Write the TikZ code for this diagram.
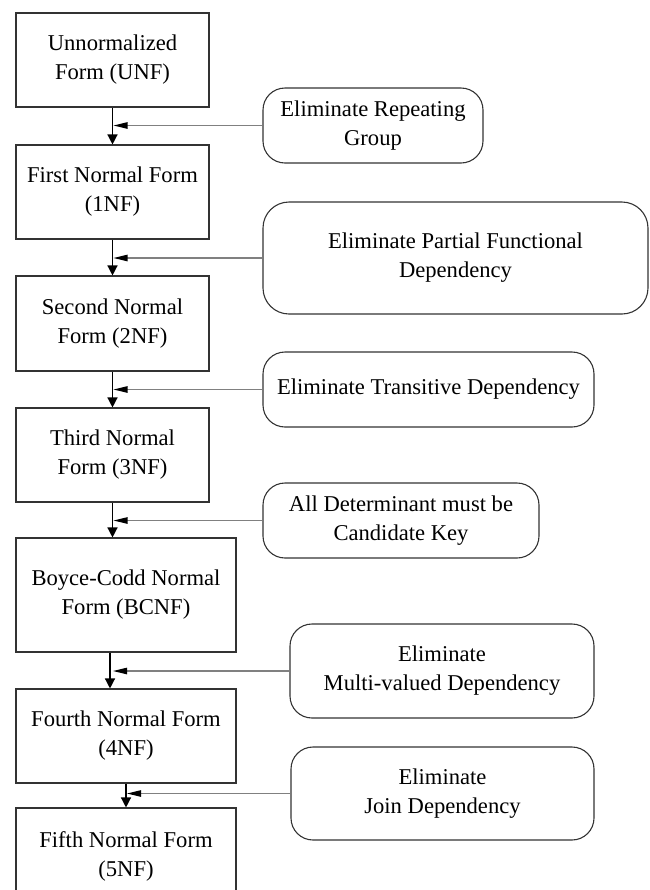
\documentclass[tikz,border=0pt]{standalone}
\usepackage{fontspec}
\setmainfont{Liberation Serif}
\usetikzlibrary{arrows.meta}
\begin{document}
\begin{tikzpicture}[x=0.5pt,y=-0.5pt,
  form/.style={draw=black!80,line width=0.55pt,align=center,inner sep=0pt,font=\fontsize{11.3}{14.5}\selectfont},
  rule/.style={form,rounded corners=11pt},
  down/.style={-{Triangle[length=5pt,width=5pt]},line width=0.65pt},
  feed/.style={-{Triangle[length=7pt,width=3.2pt,color=black]},black!50,line width=0.6pt}]
  \useasboundingbox (0,0) rectangle (649,890);
  \node[form,minimum width=96.5pt,minimum height=47pt] (unf) at (112.5,60) {Unnormalized\\Form (UNF)};
  \node[form,minimum width=96.5pt,minimum height=47pt] (nf1) at (112.5,192) {First Normal Form\\(1NF)};
  \node[form,minimum width=96.5pt,minimum height=47.5pt] (nf2) at (112.5,323.5) {Second Normal\\Form (2NF)};
  \node[form,minimum width=96.5pt,minimum height=47pt] (nf3) at (112.5,455) {Third Normal\\Form (3NF)};
  \node[form,minimum width=110pt,minimum height=57pt] (bcnf) at (126,595) {Boyce-Codd Normal\\Form (BCNF)};
  \node[form,minimum width=110pt,minimum height=47pt] (nf4) at (126,736) {Fourth Normal Form\\(4NF)};
  \node[form,minimum width=110pt,minimum height=48pt] (nf5) at (126,856) {Fifth Normal Form\\(5NF)};
  \node[rule,minimum width=110pt,minimum height=37.5pt] (r1) at (373,125.5) {Eliminate Repeating\\Group};
  \node[rule,minimum width=192.5pt,minimum height=56pt,rounded corners=13pt] (r2) at (455.5,258) {Eliminate Partial Functional\\Dependency};
  \node[rule,minimum width=165.5pt,minimum height=37.5pt] (r3) at (428.5,389.5) {Eliminate Transitive Dependency};
  \node[rule,minimum width=138pt,minimum height=37.5pt] (r4) at (401,520.5) {All Determinant must be\\Candidate Key};
  \node[rule,minimum width=152pt,minimum height=47pt] (r5) at (442,671) {Eliminate\\Multi-valued Dependency};
  \node[rule,minimum width=151.5pt,minimum height=46.5pt] (r6) at (442.5,793.5) {Eliminate\\Join Dependency};
  \foreach \up/\low/\why in {unf/nf1/r1,nf1/nf2/r2,nf2/nf3/r3,nf3/bcnf/r4,nf4/nf5/r6} {
    \draw[down] (\up.south) -- (\up.south |- \low.north);
    \draw[feed] (\why.west) -- ([xshift=0.5pt]\why.west -| \up.south);
  }
  \coordinate (j5) at ([xshift=-8pt]nf4.north);
  \draw[down] (j5 |- bcnf.south) -- (j5);
  \draw[feed] (r5.west) -- ([xshift=1.5pt]r5.west -| j5);
\end{tikzpicture}
\end{document}
